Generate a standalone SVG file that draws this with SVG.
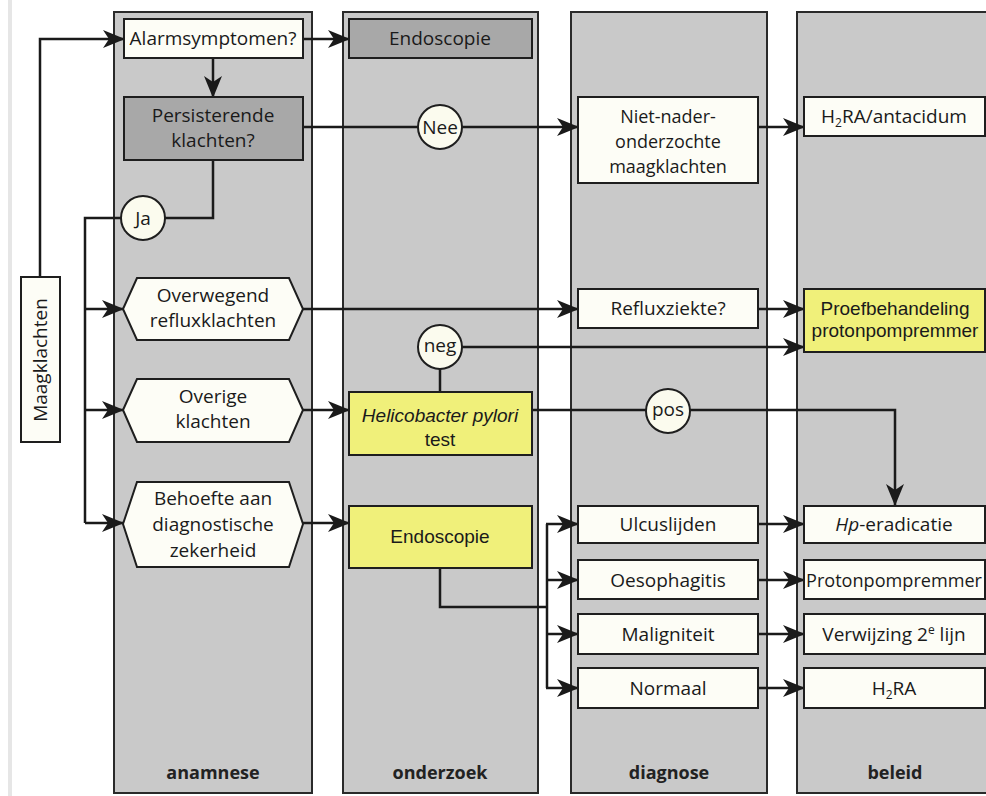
<svg xmlns="http://www.w3.org/2000/svg" width="986" height="796" viewBox="0 0 986 796">
<style>
.lane{fill:#c9c9c9;stroke:#2a2a2a;stroke-width:2}
.box{fill:#fdfdf6;stroke:#1e1e1e;stroke-width:2}
.dark{fill:#a8a8a8;stroke:#1e1e1e;stroke-width:2}
.yel{fill:#f0f07a;stroke:#1e1e1e;stroke-width:2}
.circ{fill:#fbfbee;stroke:#1e1e1e;stroke-width:2}
.t{font-family:"Open Sans","Noto Sans",sans-serif;font-size:19px;fill:#1a1a1a;text-anchor:middle}
.a{font-family:"Liberation Sans",Arial,sans-serif;font-size:19px;fill:#1a1a1a;text-anchor:middle}
.lbl{font-family:"Open Sans","Noto Sans",sans-serif;font-size:18px;font-weight:bold;fill:#222;text-anchor:middle}
.c{fill:none;stroke:#1a1a1a;stroke-width:2.5}
.ca{fill:none;stroke:#1a1a1a;stroke-width:2.5;marker-end:url(#arr)}
</style>
<defs>
<marker id="arr" markerUnits="userSpaceOnUse" viewBox="0 0 22 18" markerWidth="22" markerHeight="18" refX="21" refY="9" orient="auto">
<path d="M0,0 L22,9 L0,18 L6,9 z" fill="#1a1a1a"/>
</marker>
</defs>
<rect x="0" y="0" width="986" height="796" fill="#ffffff"/>
<rect x="8" y="0" width="4" height="796" fill="#e6e6e6"/>

<g id="lanes">
<rect class="lane" x="114" y="12" width="198" height="781"/>
<rect class="lane" x="343" y="12" width="195" height="781"/>
<rect class="lane" x="571" y="12" width="196" height="781"/>
<rect class="lane" x="797" y="12" width="195" height="781"/>
<text class="lbl" x="213" y="779">anamnese</text>
<text class="lbl" x="440" y="779">onderzoek</text>
<text class="lbl" x="669" y="779">diagnose</text>
<text class="lbl" x="895" y="779">beleid</text>
</g>

<g id="connectors">
<path class="ca" d="M40,277 V39 H124"/>
<path class="ca" d="M303,39 H349"/>
<path class="ca" d="M213,58 V97"/>
<path class="ca" d="M303,127 H578"/>
<path class="ca" d="M758,127 H804"/>
<path class="c" d="M213,160 V218 H143"/>
<path class="c" d="M143,218 H85 V523"/>
<path class="ca" d="M85,309 H123"/>
<path class="ca" d="M85,410 H123"/>
<path class="ca" d="M85,523 H123"/>
<path class="ca" d="M303,309 H578"/>
<path class="ca" d="M758,309 H804"/>
<path class="ca" d="M440,347 H804"/>
<path class="c" d="M440,347 V392"/>
<path class="ca" d="M303,410 H349"/>
<path class="ca" d="M532,410 H895 V505"/>
<path class="ca" d="M303,523 H349"/>
<path class="c" d="M440,568 V607 H547"/>
<path class="c" d="M547,524 V688"/>
<path class="ca" d="M546,524 H578"/>
<path class="ca" d="M546,580 H578"/>
<path class="ca" d="M546,634 H578"/>
<path class="ca" d="M546,688 H578"/>
<path class="ca" d="M758,524 H804"/>
<path class="ca" d="M758,580 H804"/>
<path class="ca" d="M758,634 H804"/>
<path class="ca" d="M758,688 H804"/>
</g>

<g id="maagklachten">
<rect class="box" x="21" y="277" width="39" height="165"/>
<text class="t" transform="translate(47,360) rotate(-90)">Maagklachten</text>
</g>
<g id="alarmsymptomen">
<rect class="box" x="124" y="19" width="179" height="39"/>
<text class="t" x="213" y="45">Alarmsymptomen?</text>
</g>
<g id="endoscopie1">
<rect class="dark" x="349" y="19" width="183" height="39"/>
<text class="t" x="440" y="45">Endoscopie</text>
</g>
<g id="persisterende">
<rect class="dark" x="124" y="97" width="179" height="63"/>
<text class="t" x="213" y="122">Persisterende</text>
<text class="t" x="213" y="147">klachten?</text>
</g>
<g id="nee">
<circle class="circ" cx="440" cy="127" r="22"/>
<text class="t" x="440" y="134">Nee</text>
</g>
<g id="ja">
<circle class="circ" cx="143" cy="218" r="22"/>
<text class="t" x="143" y="225">Ja</text>
</g>
<g id="nietnader">
<rect class="box" x="578" y="97" width="180" height="86"/>
<text class="t" x="668" y="123" style="font-size:18px">Niet-nader-</text>
<text class="t" x="668" y="148" style="font-size:18px">onderzochte</text>
<text class="t" x="668" y="173" style="font-size:18px">maagklachten</text>
</g>
<g id="h2ra-antacidum">
<rect class="box" x="804" y="97" width="181" height="39"/>
<text class="t" x="894" y="123">H<tspan font-size="12" dy="4">2</tspan><tspan dy="-4">RA/antacidum</tspan></text>
</g>
<g id="overwegend">
<polygon class="box" points="123,309 137,278 289,278 303,309 289,340 137,340"/>
<text class="t" x="213" y="302">Overwegend</text>
<text class="t" x="213" y="327">refluxklachten</text>
</g>
<g id="refluxziekte">
<rect class="box" x="578" y="289" width="180" height="39"/>
<text class="t" x="668" y="315">Refluxziekte?</text>
</g>
<g id="proefbehandeling">
<rect class="yel" x="804" y="289" width="181" height="63"/>
<text class="a" x="895" y="315">Proefbehandeling</text>
<text class="a" x="895" y="337">protonpompremmer</text>
</g>
<g id="neg">
<circle class="circ" cx="440" cy="347" r="22"/>
<text class="t" x="440" y="352">neg</text>
</g>
<g id="overige">
<polygon class="box" points="123,410 137,379 289,379 303,410 289,442 137,442"/>
<text class="t" x="213" y="403">Overige</text>
<text class="t" x="213" y="428">klachten</text>
</g>
<g id="helicobacter">
<rect class="yel" x="349" y="392" width="183" height="63"/>
<text class="a" x="440" y="422"><tspan font-style="italic">Helicobacter pylori</tspan></text>
<text class="a" x="440" y="446">test</text>
</g>
<g id="pos">
<circle class="circ" cx="668" cy="411" r="22"/>
<text class="t" x="668" y="416">pos</text>
</g>
<g id="behoefte">
<polygon class="box" points="123,524 137,482 289,482 303,524 289,567 137,567"/>
<text class="t" x="213" y="505">Behoefte aan</text>
<text class="t" x="213" y="531">diagnostische</text>
<text class="t" x="213" y="557">zekerheid</text>
</g>
<g id="endoscopie2">
<rect class="yel" x="349" y="506" width="183" height="62"/>
<text class="a" x="440" y="543">Endoscopie</text>
</g>
<g id="ulcuslijden">
<rect class="box" x="578" y="506" width="180" height="37"/>
<text class="t" x="668" y="531">Ulcuslijden</text>
</g>
<g id="oesophagitis">
<rect class="box" x="578" y="560" width="180" height="39"/>
<text class="t" x="668" y="587">Oesophagitis</text>
</g>
<g id="maligniteit">
<rect class="box" x="578" y="614" width="180" height="40"/>
<text class="t" x="668" y="641">Maligniteit</text>
</g>
<g id="normaal">
<rect class="box" x="578" y="668" width="180" height="40"/>
<text class="t" x="668" y="695">Normaal</text>
</g>
<g id="hp-eradicatie">
<rect class="box" x="804" y="506" width="181" height="37"/>
<text class="t" x="894" y="531"><tspan font-style="italic">Hp</tspan>-eradicatie</text>
</g>
<g id="protonpompremmer">
<rect class="box" x="804" y="560" width="181" height="39"/>
<text class="t" x="806" y="587" style="text-anchor:start;font-size:18px" textLength="176" lengthAdjust="spacingAndGlyphs">Protonpompremmer</text>
</g>
<g id="verwijzing">
<rect class="box" x="804" y="614" width="181" height="40"/>
<text class="t" x="894" y="641">Verwijzing 2<tspan font-size="12" dy="-7">e</tspan><tspan dy="7"> lijn</tspan></text>
</g>
<g id="h2ra">
<rect class="box" x="804" y="668" width="181" height="40"/>
<text class="t" x="894" y="695">H<tspan font-size="12" dy="4">2</tspan><tspan dy="-4">RA</tspan></text>
</g>
</svg>
